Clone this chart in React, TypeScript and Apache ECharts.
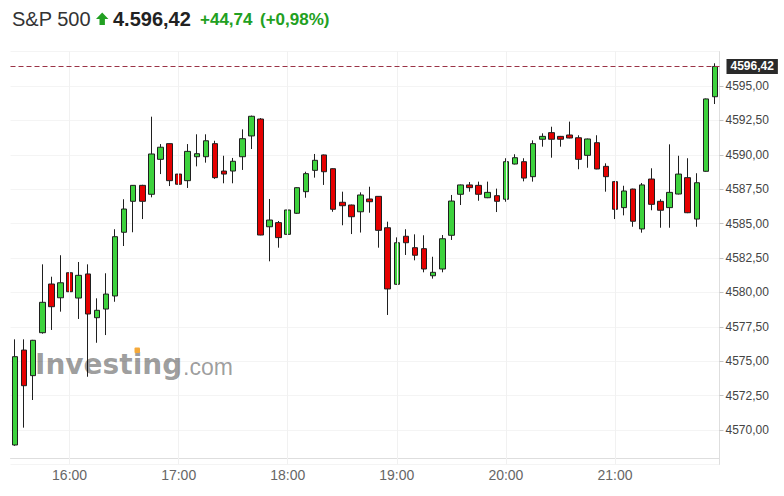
import React, { useEffect, useRef } from 'react';
import * as echarts from 'echarts';

const TIMES = [
  '15:30', '15:35', '15:40', '15:45', '15:50', '15:55',
  '16:00', '16:05', '16:10', '16:15', '16:20', '16:25', '16:30', '16:35', '16:40', '16:45', '16:50', '16:55',
  '17:00', '17:05', '17:10', '17:15', '17:20', '17:25', '17:30', '17:35', '17:40', '17:45', '17:50', '17:55',
  '18:00', '18:05', '18:10', '18:15', '18:20', '18:25', '18:30', '18:35', '18:40', '18:45', '18:50', '18:55',
  '19:00', '19:05', '19:10', '19:15', '19:20', '19:25', '19:30', '19:35', '19:40', '19:45', '19:50', '19:55',
  '20:00', '20:05', '20:10', '20:15', '20:20', '20:25', '20:30', '20:35', '20:40', '20:45', '20:50', '20:55',
  '21:00', '21:05', '21:10', '21:15', '21:20', '21:25', '21:30', '21:35', '21:40', '21:45', '21:50', '21:55',
];

const OPEN = [
  4568.91, 4575.81, 4573.95, 4577.07, 4580.61, 4579.61, 4581.43, 4579.59, 4581.34, 4578.16,
  4578.79, 4579.74, 4584.37, 4586.62, 4587.78, 4587.13, 4589.67, 4590.81, 4588.60, 4588.12,
  4589.86, 4589.86, 4590.81, 4588.82, 4588.82, 4589.86, 4591.37, 4592.60, 4584.77, 4585.07,
  4584.22, 4585.75, 4587.32, 4588.87, 4589.99, 4588.99, 4586.55, 4586.35, 4585.86, 4586.79,
  4586.98, 4584.70, 4580.59, 4584.08, 4583.25, 4583.18, 4581.21, 4581.70, 4584.15, 4587.13,
  4587.81, 4587.78, 4586.88, 4587.03, 4586.77, 4589.33, 4589.50, 4588.41, 4591.13, 4591.61,
  4591.34, 4591.44, 4591.24, 4589.96, 4590.88, 4589.16, 4588.05, 4586.16, 4587.51, 4584.61,
  4588.24, 4586.62, 4586.16, 4587.15, 4588.34, 4585.33, 4588.80, 4594.22,
];
const CLOSE = [
  4575.33, 4573.22, 4576.52, 4579.28, 4578.96, 4580.70, 4580.05, 4581.24, 4578.43, 4578.70,
  4579.88, 4584.05, 4586.06, 4587.78, 4586.62, 4590.06, 4590.55, 4588.12, 4587.86, 4590.25,
  4590.08, 4591.02, 4588.34, 4588.60, 4589.53, 4591.17, 4592.80, 4584.17, 4585.26, 4583.98,
  4585.99, 4587.61, 4588.63, 4589.60, 4588.77, 4586.04, 4586.30, 4585.50, 4587.08, 4586.59,
  4584.51, 4580.25, 4583.61, 4583.61, 4582.70, 4581.70, 4581.46, 4583.90, 4586.64, 4587.81,
  4587.61, 4587.13, 4587.27, 4586.62, 4589.50, 4589.79, 4588.31, 4590.81, 4591.34, 4591.13,
  4591.13, 4591.22, 4589.67, 4591.15, 4588.97, 4588.41, 4586.04, 4587.37, 4585.17, 4587.81,
  4586.40, 4585.97, 4587.27, 4588.60, 4585.79, 4587.97, 4594.06, 4596.42,
];
const LOW = [
  4568.85, 4570.17, 4572.18, 4577.00, 4577.27, 4578.60, 4578.79, 4578.07, 4573.87, 4576.34,
  4576.90, 4579.32, 4583.37, 4584.37, 4585.33, 4586.91, 4588.60, 4587.73, 4587.51, 4587.59,
  4589.16, 4589.43, 4588.25, 4587.93, 4587.93, 4588.90, 4590.42, 4584.15, 4582.26, 4583.25,
  4583.98, 4585.70, 4586.88, 4588.34, 4587.81, 4585.86, 4584.88, 4584.24, 4584.35, 4585.79,
  4583.25, 4578.36, 4580.55, 4582.72, 4582.33, 4581.46, 4581.00, 4581.46, 4583.81, 4586.35,
  4587.32, 4586.66, 4586.85, 4585.84, 4586.59, 4589.30, 4588.07, 4588.05, 4590.59, 4589.79,
  4590.59, 4591.20, 4588.95, 4589.06, 4588.95, 4587.32, 4585.33, 4585.60, 4584.77, 4584.34,
  4585.97, 4584.70, 4584.70, 4587.12, 4585.76, 4584.77, 4588.77, 4593.69,
];
const HIGH = [
  4576.59, 4576.59, 4576.55, 4582.04, 4581.14, 4582.70, 4582.77, 4582.21, 4582.04, 4579.57,
  4581.39, 4584.59, 4586.77, 4587.80, 4587.82, 4592.77, 4590.78, 4590.83, 4589.02, 4590.78,
  4591.49, 4591.49, 4591.02, 4589.93, 4589.77, 4591.85, 4592.85, 4592.67, 4586.79, 4585.19,
  4586.02, 4587.64, 4588.77, 4590.06, 4590.02, 4589.02, 4587.32, 4586.38, 4587.27, 4587.68,
  4587.00, 4585.14, 4584.00, 4584.59, 4584.22, 4584.15, 4582.59, 4584.17, 4587.08, 4587.84,
  4588.02, 4588.05, 4588.05, 4587.54, 4589.75, 4590.04, 4589.75, 4591.05, 4591.56, 4592.04,
  4591.37, 4592.41, 4591.42, 4591.18, 4591.42, 4589.38, 4588.10, 4587.75, 4587.54, 4587.95,
  4589.02, 4586.77, 4590.76, 4589.93, 4589.75, 4588.66, 4594.09, 4596.65,
];

const HOUR_LABELS = ['16:00', '17:00', '18:00', '19:00', '20:00', '21:00'];
const Y_MIN = 4567.5;
const Y_MAX = 4597.5;
const Y_STEP = 2.5;
const LAST_PRICE = 4596.42;

const TITLE_NAME = 'S&P 500';
const TITLE_PRICE = '4.596,42';
const TITLE_CHANGE = '+44,74';
const TITLE_PCT = '(+0,98%)';
const WATERMARK_MAIN = 'Investing';
const WATERMARK_TLD = '.com';

const FONT = '"Liberation Sans", Arial, sans-serif';
const GREEN_TEXT = '#22a022';
const UP_FILL = '#3dd23d';
const DOWN_FILL = '#e50000';

const fmt = (v: number) => v.toFixed(2).replace('.', ',');

export default function App() {
  const ref = useRef<HTMLDivElement>(null);

  useEffect(() => {
    if (!ref.current) return;
    const chart = echarts.init(ref.current, undefined, { renderer: 'svg' });
    const candles = TIMES.map((_, i) => [OPEN[i], CLOSE[i], LOW[i], HIGH[i]]);

    chart.setOption({
      animation: false,
      backgroundColor: '#ffffff',
      grid: { left: 10.5, top: 51.6, width: 709, height: 412.8, containLabel: false },
      xAxis: {
        type: 'category',
        data: TIMES,
        boundaryGap: true,
        offset: -6,
        axisLine: { show: true, lineStyle: { color: '#dedede', width: 1 } },
        axisTick: { show: false },
        axisLabel: {
          interval: (_i: number, v: string) => HOUR_LABELS.includes(v),
          color: '#666',
          fontSize: 14,
          fontFamily: FONT,
          margin: 10,
        },
        splitLine: { show: false },
      },
      yAxis: {
        type: 'value',
        position: 'right',
        min: Y_MIN,
        max: Y_MAX,
        interval: Y_STEP,
        axisLine: { show: true, lineStyle: { color: '#dedede' } },
        axisTick: { show: true, length: 4, lineStyle: { color: '#c4c4c4' } },
        axisLabel: {
          formatter: (v: number) => fmt(v),
          color: '#444',
          fontSize: 12,
          fontFamily: FONT,
          margin: 6,
          showMinLabel: false,
          showMaxLabel: false,
        },
        splitLine: { show: true, lineStyle: { color: '#f4f4f4', width: 1 } },
      },
      series: [
        {
          type: 'line',
          data: [],
          z: 1,
          silent: true,
          markLine: {
            silent: true,
            symbol: ['none', 'none'],
            label: { show: false },
            lineStyle: { color: '#f1f1f1', type: 'solid', width: 1 },
            data: HOUR_LABELS.map((h) => ({ xAxis: h })),
          },
        },
        {
          type: 'candlestick',
          data: candles,
          barWidth: 6,
          z: 3,
          itemStyle: {
            color: UP_FILL,
            color0: DOWN_FILL,
            borderColor: '#1f1f1f',
            borderColor0: '#1f1f1f',
            borderWidth: 1,
          },
          markLine: {
            silent: true,
            symbol: ['none', 'none'],
            data: [{ yAxis: LAST_PRICE }],
            lineStyle: { color: '#9a3346', type: [5, 3], width: 1 },
            label: {
              show: true,
              position: 'end',
              distance: 7,
              formatter: fmt(LAST_PRICE),
              color: '#ffffff',
              fontWeight: 'bold',
              fontSize: 12,
              fontFamily: FONT,
              backgroundColor: '#2a2a2a',
              padding: [2, 4, 1, 4],
            },
          },
        },
      ],
      graphic: [
        {
          type: 'text', x: 12, y: 18.5, z: 10,
          style: { text: TITLE_NAME, font: `20px ${FONT}`, fill: '#333', verticalAlign: 'middle' },
        },
        {
          type: 'polygon', z: 10,
          shape: { points: [[102.2, 12.5], [108.4, 19], [104.9, 19], [104.9, 25], [99.5, 25], [99.5, 19], [96, 19]] },
          style: { fill: GREEN_TEXT },
        },
        {
          type: 'text', x: 113, y: 18.5, z: 10,
          style: { text: TITLE_PRICE, font: `bold 20px ${FONT}`, fill: '#222', verticalAlign: 'middle' },
        },
        {
          type: 'text', x: 200, y: 19.5, z: 10,
          style: { text: TITLE_CHANGE, font: `bold 17px ${FONT}`, fill: GREEN_TEXT, verticalAlign: 'middle' },
        },
        {
          type: 'text', x: 260, y: 19.5, z: 10,
          style: { text: TITLE_PCT, font: `bold 17px ${FONT}`, fill: GREEN_TEXT, verticalAlign: 'middle' },
        },
        {
          type: 'text', x: 35, y: 364.5, z: 20, silent: true,
          style: { text: WATERMARK_MAIN, font: 'bold 28px "DejaVu Sans", sans-serif', fill: 'rgba(0,0,0,0.40)', verticalAlign: 'middle' },
        },
        {
          type: 'text', x: 183, y: 366.5, z: 20, silent: true,
          style: { text: WATERMARK_TLD, font: `23px ${FONT}`, fill: 'rgba(0,0,0,0.40)', verticalAlign: 'middle' },
        },
        {
          type: 'rect', z: 21, silent: true,
          shape: { x: 134.5, y: 347.5, width: 5.5, height: 5.5, r: 1 },
          style: { fill: '#f5a93a' },
        },
      ],
    });

    return () => chart.dispose();
  }, []);

  return (
    <div
      ref={ref}
      style={{ position: 'fixed', left: 0, top: 0, width: 784, height: 496, background: '#fff' }}
    />
  );
}
